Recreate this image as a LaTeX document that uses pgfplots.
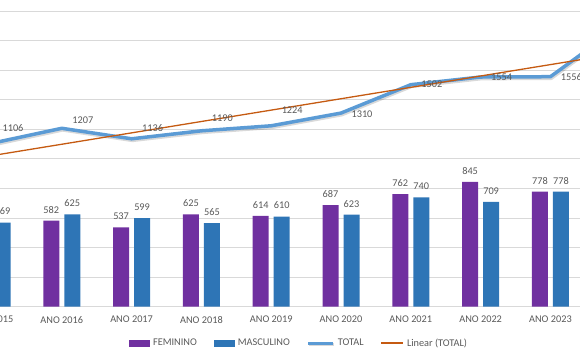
\documentclass[border=0pt]{standalone}
\usepackage{pgfplots}
\usepackage{pgfplotstable}
\pgfplotsset{compat=1.18}
\usepackage{fontspec}
\setmainfont{Carlito}
\definecolor{fem}{HTML}{7030A0}
\definecolor{masc}{HTML}{2E75B6}
\definecolor{tot}{HTML}{5B9BD5}
\definecolor{trend}{HTML}{C55A11}
\definecolor{txt}{HTML}{595959}
\definecolor{gridc}{HTML}{D9D9D9}

\pgfplotstableread{
x F M
0 537 569
1 582 625
2 537 599
3 625 565
4 614 610
5 687 623
6 762 740
7 845 709
8 778 778
}\bars

\pgfplotstableread{
x T dy
0 1106 15
1 1207 8
2 1136 11
3 1190 13
4 1224 16
5 1310 -1
6 1502 1
7 1554 0
8 1556 0
9 1900 0
}\totals

\begin{document}
\begin{tikzpicture}[x=1pt,y=1pt]
\useasboundingbox (0,0) rectangle (580,360);
\clip (0,0) rectangle (580,360);
\begin{axis}[
  at={(-49.88pt,53.3pt)}, anchor=south west,
  scale only axis, width=705pt, height=310.4pt,
  xmin=-0.6, xmax=9.5, ymin=0, ymax=2100,
  axis line style={draw=none},
  major tick length=0pt,
  xtick={0,...,8},
  xticklabels={ANO 2015,ANO 2016,ANO 2017,ANO 2018,ANO 2019,ANO 2020,ANO 2021,ANO 2022,ANO 2023},
  ytick={0,200,...,2000},
  yticklabels={},
  ymajorgrids, grid style={gridc, line width=0.8pt},
  font=\fontsize{10.3}{12}\selectfont,
  xticklabel style={text=txt, yshift=-6pt},
  /pgf/number format/assume math mode=true,
  /pgf/number format/1000 sep={},
  nodes near coords style={text=txt, font=\fontsize{10.3}{12}\selectfont},
  legend columns=4,
  legend style={at={(0.495,-0.117)}, anchor=center, draw=none, fill=none,
    font=\fontsize{10.3}{12}\selectfont, text=txt,
    /tikz/every odd column/.append style={column sep=1pt},
    /tikz/every even column/.append style={column sep=15pt}},
]
\addplot[ybar, bar width=16pt, bar shift=-10.5pt, fill=fem, draw=none,
  nodes near coords, every node near coord/.append style={xshift=-10.5pt, yshift=4pt},
  legend image code/.code={\fill[fem] (0pt,-3.5pt) rectangle (21pt,3.5pt);}]
  table[x=x,y=F]{\bars};
\addlegendentry{FEMININO}
\addplot[ybar, bar width=16pt, bar shift=10.5pt, fill=masc, draw=none,
  nodes near coords, every node near coord/.append style={xshift=10.5pt, yshift=4pt},
  legend image code/.code={\fill[masc] (0pt,-3.5pt) rectangle (21pt,3.5pt);}]
  table[x=x,y=M]{\bars};
\addlegendentry{MASCULINO}
\addplot[tot, line width=3.5pt, line join=round, mark=none,
  preaction={draw=black, opacity=0.15, line width=3.5pt, transform canvas={xshift=0.8pt,yshift=-1.6pt}},
  visualization depends on={\thisrow{dy} \as \dy},
  nodes near coords,
  every node near coord/.append style={anchor=center, xshift=21pt, yshift=\dy pt},
  legend image code/.code={\draw[tot, line width=3pt] (0pt,0pt) -- (25pt,0pt);}]
  table[x=x,y=T]{\totals};
\addlegendentry{TOTAL}
\addplot[trend, line width=1.3pt, mark=none,
  legend image code/.code={\draw[trend, line width=1.3pt] (0pt,0pt) -- (22pt,0pt);}]
  table[x=x, y={create col/linear regression={y=T}}]{\totals};
\addlegendentry{Linear (TOTAL)}
\end{axis}
\end{tikzpicture}
\end{document}
